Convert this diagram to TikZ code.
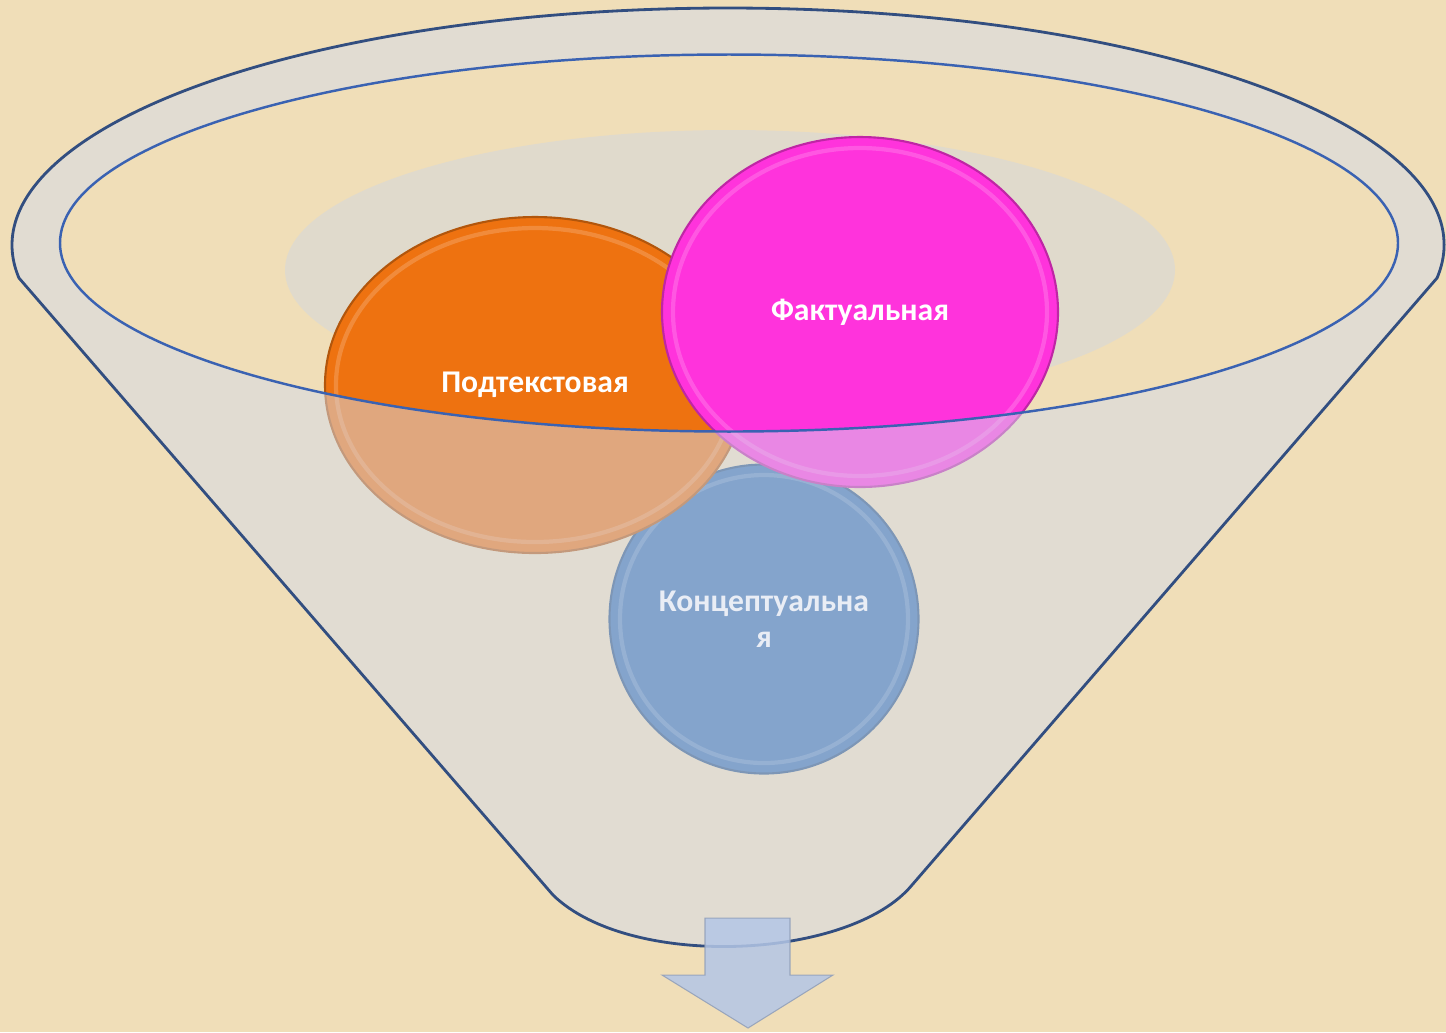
\documentclass[tikz,border=0pt]{standalone}
\usepackage{fontspec}
\setmainfont{Carlito}
\usetikzlibrary{shapes.geometric}

\definecolor{parchment}{RGB}{240,222,184}
\definecolor{funnelgray}{RGB}{212,220,236}
\definecolor{rimline}{RGB}{50,78,128}
\definecolor{innerline}{RGB}{58,98,178}
\definecolor{shadowgray}{RGB}{222,218,208}
\definecolor{ballorange}{RGB}{238,114,16}
\definecolor{ballpink}{RGB}{255,51,220}
\definecolor{ballblue}{RGB}{52,108,172}
\definecolor{arrowblue}{RGB}{180,198,230}

\tikzset{
  ball/.style={ellipse, draw=#1!75!black, fill=#1, line width=0.6pt, inner sep=0pt,
    text=white, align=center, font=\fontsize{9}{10.3}\selectfont\bfseries},
  ballrim/.style={draw=white, opacity=0.18, line width=1.2pt},
  funnel/.style={fill=funnelgray, fill opacity=0.5, even odd rule},
}

\begin{document}
\begin{tikzpicture}
		\useasboundingbox (0,0) rectangle (14.46,-10.32);
		\fill[parchment] (0,0) rectangle (14.46,-10.32);

		% back of the funnel
		\fill[shadowgray, opacity=0.85] (7.30,-2.70) ellipse (4.45 and 1.40);

		% the three balls
		\node[ball=ballblue, minimum width=3.09cm, minimum height=3.09cm] (concept) at (7.64,-6.19) {Концептуальна\\я};
		\draw[ballrim] (concept.center) ellipse (1.44 and 1.44);
		\node[ball=ballorange, minimum width=4.20cm, minimum height=3.36cm] (subtext) at (5.35,-3.85) {Подтекстовая};
		\draw[ballrim] (subtext.center) ellipse (1.99 and 1.57);
		\node[ball=ballpink, minimum width=3.96cm, minimum height=3.50cm] (fact) at (8.60,-3.12) {Фактуальная};
		\draw[ballrim] (fact.center) ellipse (1.87 and 1.64);

		% funnel front and rim
		\coordinate (rimC) at (7.28,-2.45);
		\coordinate (mouthC) at (7.29,-2.43);
		\path (rimC) ++(-8:7.16 and 2.37) coordinate (rimR);
		\path (rimC) ++(188:7.16 and 2.37) coordinate (rimL);
		\coordinate (spoutL) at (5.53,-8.95);
		\coordinate (spoutR) at (9.12,-8.85);
		\path[funnel] (rimR) arc[start angle=-8, end angle=188, x radius=7.16, y radius=2.37]
			-- (spoutL) .. controls (6.3,-9.7) and (8.5,-9.6) .. (spoutR) -- cycle
			(mouthC) ellipse (6.69 and 1.885);
		\draw[rimline, line width=0.8pt] (rimR) arc[start angle=-8, end angle=188, x radius=7.16, y radius=2.37]
			-- (spoutL) .. controls (6.3,-9.7) and (8.5,-9.6) .. (spoutR) -- cycle;
		\draw[innerline, line width=0.7pt] (mouthC) ellipse (6.69 and 1.885);

		% outlet arrow
		\fill[arrowblue, opacity=0.85, draw=arrowblue!80!black, line width=0.3pt]
			(7.05,-9.18) -- (7.90,-9.18) -- (7.90,-9.75) -- (8.33,-9.75)
			-- (7.48,-10.28) -- (6.62,-9.75) -- (7.05,-9.75) -- cycle;
	\end{tikzpicture}
\end{document}
